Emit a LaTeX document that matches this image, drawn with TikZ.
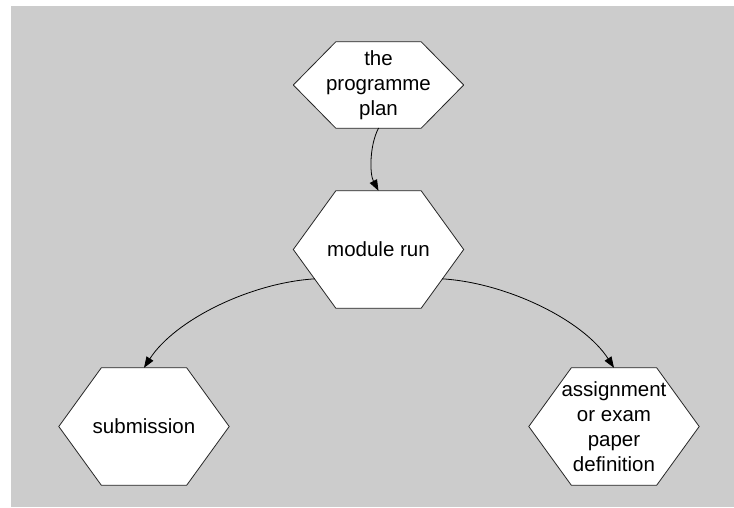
\documentclass[tikz,border=0pt]{standalone}
\usepackage{fontspec}
\setmainfont{Liberation Sans}
\usetikzlibrary{arrows.meta,backgrounds,calc}
\tikzset{
	task/.style={minimum width=170pt, inner sep=0pt, align=center, font=\fontsize{20.5}{25}\selectfont},
	hexa/.style={draw=black!85, fill=white, line width=0.8pt, line join=round},
	flow/.style={-{Triangle[length=11pt,width=8pt]}, line width=0.8pt}
}
\begin{document}
\begin{tikzpicture}[x=1pt, y=-1pt, line cap=round]
	\useasboundingbox (0,0) rectangle (734,507);
	\node[task, minimum height=86pt] (plan) at (378.5,85) {the\\programme\\plan};
	\node[task, minimum height=117pt] (run) at (378.5,249.5) {module run};
	\node[task, minimum height=117pt] (sub) at (144,426.5) {submission};
	\node[task, minimum height=117pt] (def) at (614,426.5) {assignment\\or exam\\paper\\definition};
	\begin{scope}[on background layer]
		\fill[gray!40] (11,6) rectangle (734,507);
		\foreach \n in {plan,run,sub,def}
			\draw[hexa] (\n.west) -- ([xshift=42.5pt]\n.north west) -- ([xshift=-42.5pt]\n.north east) -- (\n.east) -- ([xshift=-42.5pt]\n.south east) -- ([xshift=42.5pt]\n.south west) -- cycle;
	\end{scope}
	\coordinate (runL) at ($(run.west)!0.5!([xshift=42.5pt]run.south west)$);
	\coordinate (runR) at ($(run.east)!0.5!([xshift=-42.5pt]run.south east)$);
	\draw[flow] (plan.south) .. controls +(-9,17) and +(-9,-17) .. (run.north);
	\draw[flow] (runL) .. controls +(-64,4) and +(31,-48) .. (sub.north);
	\draw[flow] (runR) .. controls +(64,4) and +(-31,-48) .. (def.north);
\end{tikzpicture}
\end{document}
